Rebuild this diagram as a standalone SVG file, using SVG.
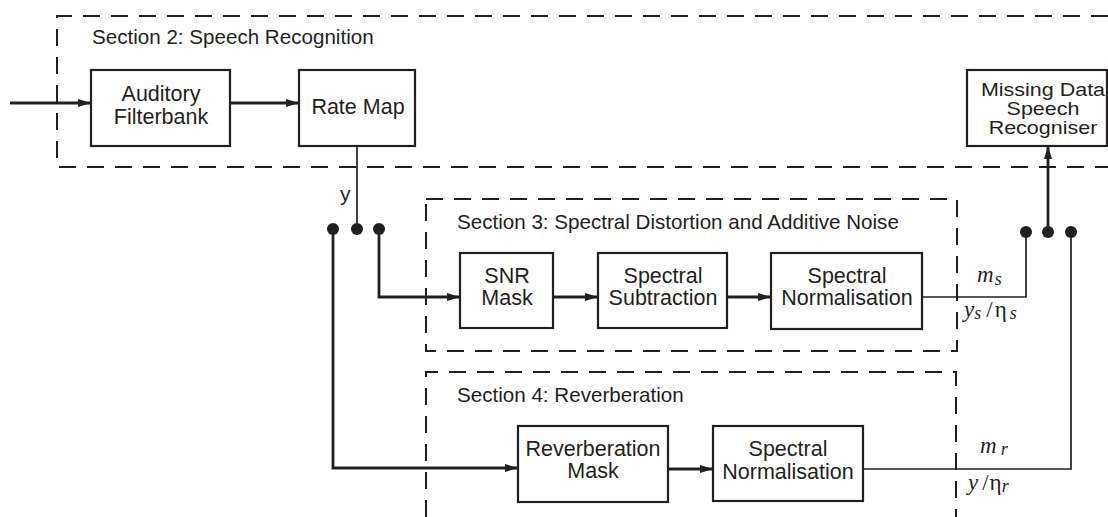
<svg xmlns="http://www.w3.org/2000/svg" width="1108" height="517" viewBox="0 0 1108 517">
<defs>
<style>
.box{fill:#fff;stroke:#231f20;stroke-width:2.2}
.dash{fill:none;stroke:#231f20;stroke-width:2;stroke-dasharray:17 11}
.thick{fill:none;stroke:#231f20;stroke-width:2.8}
.thin{fill:none;stroke:#231f20;stroke-width:1.7}
.lbl{font-family:"Liberation Sans",Arial,sans-serif;font-size:21.5px;fill:#231f20;text-anchor:middle}
.sec{font-family:"Liberation Sans",Arial,sans-serif;font-size:20.6px;fill:#231f20}
.math{font-family:"Liberation Serif","Times New Roman",serif;font-size:23px;fill:#231f20}
.dot{fill:#231f20}
</style>
<marker id="ah" markerWidth="14" markerHeight="10" refX="13" refY="5" orient="auto" markerUnits="userSpaceOnUse">
<path d="M0,1 L13,5 L0,9 Z" fill="#231f20"/>
</marker>
</defs>

<g id="sections">
<path class="dash" d="M1108,16 H57 V167 H1108"/>
<text class="sec" x="92" y="44">Section 2: Speech Recognition</text>
<path class="dash" d="M426,199 H957 V351 H426 Z"/>
<text class="sec" x="457" y="229">Section 3: Spectral Distortion and Additive Noise</text>
<path class="dash" d="M426,517 V372 H956 V517"/>
<text class="sec" x="457" y="402">Section 4: Reverberation</text>
</g>

<g id="connectors">
<path class="thick" d="M10,103 H91" marker-end="url(#ah)"/>
<path class="thick" d="M230,103 H299" marker-end="url(#ah)"/>
<path class="thin" d="M357,146 V228"/>
<path class="thick" d="M379,228 V297 H460" marker-end="url(#ah)"/>
<path class="thick" d="M333,228 V468 H518" marker-end="url(#ah)"/>
<path class="thick" d="M553,297 H598" marker-end="url(#ah)"/>
<path class="thick" d="M727,297 H771" marker-end="url(#ah)"/>
<path class="thick" d="M668,469 H713" marker-end="url(#ah)"/>
<path class="thin" d="M922,297 H1026 V232"/>
<path class="thin" d="M863,469 H1071 V232"/>
<path class="thick" d="M1048,232 V146" marker-end="url(#ah)"/>
<circle class="dot" cx="333" cy="229" r="6"/>
<circle class="dot" cx="357" cy="229" r="6"/>
<circle class="dot" cx="379" cy="229" r="6"/>
<circle class="dot" cx="1026" cy="232" r="6"/>
<circle class="dot" cx="1048" cy="232" r="6"/>
<circle class="dot" cx="1071" cy="232" r="6"/>
<text class="sec" x="340" y="201" style="font-size:21px">y</text>
<text class="math" x="977" y="282"><tspan font-style="italic">m</tspan><tspan font-style="italic" font-size="18" dx="1" dy="3">s</tspan></text>
<text class="math" x="964" y="317"><tspan font-style="italic">y</tspan><tspan font-style="italic" font-size="18" dy="2">s</tspan><tspan dx="5" dy="-2">/</tspan><tspan dx="2">η</tspan><tspan font-style="italic" font-size="18" dx="3" dy="2">s</tspan></text>
<text class="math" x="980" y="453"><tspan font-style="italic">m</tspan><tspan font-style="italic" font-size="18" dx="4" dy="2">r</tspan></text>
<text class="math" x="968" y="490"><tspan font-style="italic">y</tspan><tspan dx="4">/</tspan><tspan dx="1">η</tspan><tspan font-style="italic" font-size="18" dy="2">r</tspan></text>
</g>

<g id="auditory-filterbank">
<rect class="box" x="91" y="70" width="139" height="76"/>
<text class="lbl" x="161" y="101">Auditory</text>
<text class="lbl" x="161" y="124">Filterbank</text>
</g>
<g id="rate-map">
<rect class="box" x="299" y="70" width="116" height="76"/>
<text class="lbl" x="358" y="114">Rate Map</text>
</g>
<g id="missing-data">
<rect class="box" x="967" y="70" width="140" height="76"/>
<g transform="scale(1,0.85)">
<text class="lbl" x="1043" y="112.9">Missing Data</text>
<text class="lbl" x="1043" y="135.3">Speech</text>
<text class="lbl" x="1043" y="157.6">Recogniser</text>
</g>
</g>
<g id="snr-mask">
<rect class="box" x="460" y="253" width="93" height="75"/>
<text class="lbl" x="507" y="283">SNR</text>
<text class="lbl" x="507" y="305">Mask</text>
</g>
<g id="spectral-subtraction">
<rect class="box" x="598" y="253" width="129" height="75"/>
<text class="lbl" x="663" y="283">Spectral</text>
<text class="lbl" x="663" y="305">Subtraction</text>
</g>
<g id="spectral-normalisation-s">
<rect class="box" x="771" y="253" width="151" height="76"/>
<text class="lbl" x="847" y="283">Spectral</text>
<text class="lbl" x="847" y="305">Normalisation</text>
</g>
<g id="reverberation-mask">
<rect class="box" x="518" y="426" width="150" height="76"/>
<text class="lbl" x="593" y="456">Reverberation</text>
<text class="lbl" x="593" y="478">Mask</text>
</g>
<g id="spectral-normalisation-r">
<rect class="box" x="713" y="426" width="150" height="75"/>
<text class="lbl" x="788" y="456">Spectral</text>
<text class="lbl" x="788" y="479">Normalisation</text>
</g>
</svg>
